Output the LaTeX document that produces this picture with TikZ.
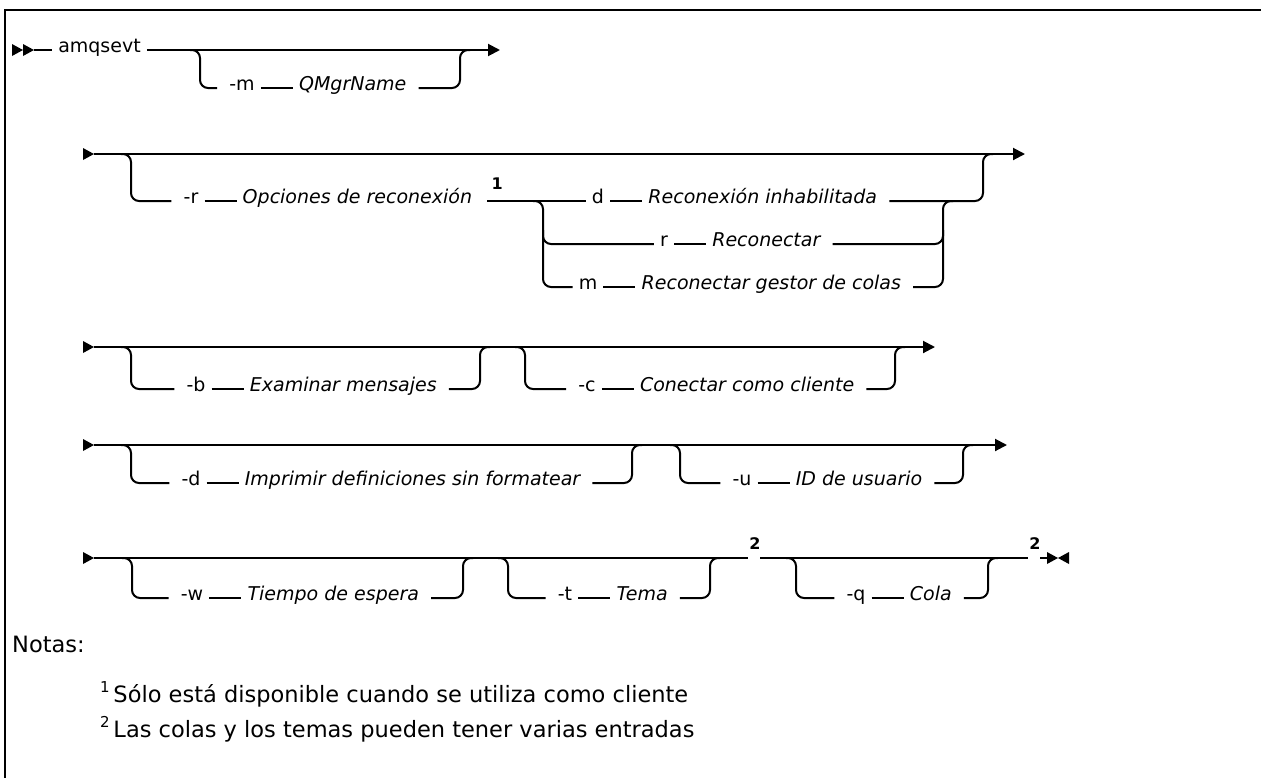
\documentclass[tikz,border=0pt]{standalone}
\usepackage{fontspec}
\setmainfont{DejaVu Sans}
\usetikzlibrary{arrows.meta,positioning}
\begin{document}
\begin{tikzpicture}[x=1pt,y=-1pt,
  node distance=32pt,
  rail/.style={line width=2pt, draw=black},
  brk/.style={rail, rounded corners=8pt},
  kw/.style={inner xsep=6pt, inner ysep=0pt, anchor=mid, font=\fontsize{19}{23}\selectfont},
  var/.style={kw, font=\fontsize{19}{23}\selectfont\itshape},
  fnum/.style={inner sep=0pt, font=\fontsize{16}{16}\selectfont\bfseries},
  endarrow/.style={rail, -{Triangle[length=12pt,width=12pt]}},
  note/.style={inner sep=0pt, anchor=mid west, font=\fontsize{22.5}{27}\selectfont}
]
\fill[white] (0,0) rectangle (1261,777);
\useasboundingbox (0,0) rectangle (1261,777);
\draw[line width=2.5pt] (5,778) -- (5,10) -- (1262,10);

% ---------- Row 1
\fill (12,44) -- (23,50) -- (12,56) -- cycle;
\fill (23,44) -- (34,50) -- (23,56) -- cycle;
\coordinate (s1) at (34,50);
\node[kw] (amq) at (99.5,50) {amqsevt};
\coordinate (e1) at (500,50);
\draw[rail] (s1) -- (amq.mid west);
\draw[endarrow] (amq.mid east) -- (e1);
\node[kw] (m1) at (242,88) {-m};
\node[var, right=of m1.mid east, anchor=mid west] (q1) {QMgrName};
\coordinate (l1) at (200,50); \coordinate (l1b) at (200,88);
\draw[brk] ([xshift=-10pt]l1) -- (l1) -- (l1b) -- ([xshift=-6pt]m1.mid west);
\draw[rail] (m1.mid east) -- (q1.mid west);
\coordinate (r1b) at (460,88); \coordinate (r1) at (460,50);
\draw[brk] ([xshift=6pt]q1.mid east) -- (r1b) -- (r1) -- ([xshift=10pt]r1);

% ---------- Row 2
\fill (83,148) -- (94,154) -- (83,160) -- cycle;
\coordinate (s2) at (94,154);
\coordinate (e2) at (1025,154);
\draw[endarrow] (s2) -- (e2);
\node[kw] (r2) at (191,201) {-r};
\node[var, right=of r2.mid east, anchor=mid west] (o2) {Opciones de reconexión};
\coordinate (o2e) at ([xshift=9pt]o2.mid east);
\node[fnum] (f1) at ([xshift=10pt,yshift=17pt]o2e) {1};
\coordinate (l2) at (131,154); \coordinate (l2b) at (131,201);
\draw[brk] ([xshift=-10pt]l2) -- (l2) -- (l2b) -- ([xshift=-6pt]r2.mid west);
\draw[rail] (r2.mid east) -- (o2.mid west);
\node[kw] (d2) at (598,201) {d};
\node[var, right=of d2.mid east, anchor=mid west] (dv2) {Reconexión inhabilitada};
\node[kw] (rr2) at (664,244) {r};
\node[var, right=of rr2.mid east, anchor=mid west] (rv2) {Reconectar};
\node[kw] (mm2) at (588,287) {m};
\node[var, right=of mm2.mid east, anchor=mid west] (mv2) {Reconectar gestor de colas};
\draw[rail] (o2e) -- (d2.mid west);
\draw[rail] (d2.mid east) -- (dv2.mid west);
\draw[rail] (rr2.mid east) -- (rv2.mid west);
\draw[rail] (mm2.mid east) -- (mv2.mid west);
\coordinate (sp) at (543,201); \coordinate (spr) at (543,244); \coordinate (spm) at (543,287);
\draw[brk] ([xshift=-10pt]sp) -- (sp) -- (spm) -- (mm2.mid west);
\draw[brk] ([yshift=14pt]spr) -- (spr) -- (rr2.mid west);
\coordinate (jd) at (943,201); \coordinate (jr) at (943,244); \coordinate (jm) at (943,287);
\draw[brk] ([xshift=6pt]mv2.mid east) -- (jm) -- (jd) -- ([xshift=10pt]jd);
\draw[brk] ([xshift=6pt]rv2.mid east) -- (jr) -- ([yshift=14pt]jr);
\coordinate (r2b) at (983,201); \coordinate (r2) at (983,154);
\draw[brk] ([xshift=6pt]dv2.mid east) -- (r2b) -- (r2) -- ([xshift=10pt]r2);

% ---------- Row 3
\fill (83,341) -- (94,347) -- (83,353) -- cycle;
\coordinate (s3) at (94,347);
\coordinate (e3) at (935,347);
\draw[endarrow] (s3) -- (e3);
\node[kw] (b3) at (196,389) {-b};
\node[var, right=of b3.mid east, anchor=mid west] (bv3) {Examinar mensajes};
\node[kw] (c3) at (587,389) {-c};
\node[var, right=of c3.mid east, anchor=mid west] (cv3) {Conectar como cliente};
\draw[rail] (b3.mid east) -- (bv3.mid west);
\draw[rail] (c3.mid east) -- (cv3.mid west);
\coordinate (l3) at (131,347); \coordinate (l3b) at (131,389);
\draw[brk] ([xshift=-10pt]l3) -- (l3) -- (l3b) -- ([xshift=-6pt]b3.mid west);
\coordinate (r3b) at (480,389); \coordinate (r3) at (480,347);
\draw[brk] ([xshift=6pt]bv3.mid east) -- (r3b) -- (r3) -- ([xshift=10pt]r3);
\coordinate (l3c) at (525,347); \coordinate (l3cb) at (525,389);
\draw[brk] ([xshift=-10pt]l3c) -- (l3c) -- (l3cb) -- ([xshift=-6pt]c3.mid west);
\coordinate (r3cb) at (895,389); \coordinate (r3c) at (895,347);
\draw[brk] ([xshift=6pt]cv3.mid east) -- (r3cb) -- (r3c) -- ([xshift=10pt]r3c);

% ---------- Row 4
\fill (83,439) -- (94,445) -- (83,451) -- cycle;
\coordinate (s4) at (94,445);
\coordinate (e4) at (1007,445);
\draw[endarrow] (s4) -- (e4);
\node[kw] (d4) at (191,483) {-d};
\node[var, right=of d4.mid east, anchor=mid west] (dv4) {Imprimir definiciones sin formatear};
\node[kw] (u4) at (742,483) {-u};
\node[var, right=of u4.mid east, anchor=mid west] (uv4) {ID de usuario};
\draw[rail] (d4.mid east) -- (dv4.mid west);
\draw[rail] (u4.mid east) -- (uv4.mid west);
\coordinate (l4) at (131,445); \coordinate (l4b) at (131,483);
\draw[brk] ([xshift=-10pt]l4) -- (l4) -- (l4b) -- ([xshift=-6pt]d4.mid west);
\coordinate (r4b) at (632,483); \coordinate (r4) at (632,445);
\draw[brk] ([xshift=6pt]dv4.mid east) -- (r4b) -- (r4) -- ([xshift=10pt]r4);
\coordinate (l4u) at (680,445); \coordinate (l4ub) at (680,483);
\draw[brk] ([xshift=-10pt]l4u) -- (l4u) -- (l4ub) -- ([xshift=-6pt]u4.mid west);
\coordinate (r4ub) at (963,483); \coordinate (r4u) at (963,445);
\draw[brk] ([xshift=6pt]uv4.mid east) -- (r4ub) -- (r4u) -- ([xshift=10pt]r4u);

% ---------- Row 5
\fill (83,552) -- (94,558) -- (83,564) -- cycle;
\coordinate (s5) at (94,558);
\node[fnum] (f2a) at (755,544) {2};
\node[fnum] (f2b) at (1035,544) {2};
\coordinate (g5a) at (748,558); \coordinate (g5b) at (760,558);
\coordinate (g5c) at (1028,558); \coordinate (g5d) at (1040,558);
\coordinate (x5) at (1047,558);
\draw[rail] (s5) -- (g5a);
\draw[rail] (g5b) -- (g5c);
\draw[rail] (g5d) -- (x5);
\fill (1047,552) -- (1058,558) -- (1047,564) -- cycle;
\fill (1069,552) -- (1058,558) -- (1069,564) -- cycle;
\node[kw] (w5) at (192,598) {-w};
\node[var, right=of w5.mid east, anchor=mid west] (wv5) {Tiempo de espera};
\node[kw] (t5) at (565,598) {-t};
\node[var, right=of t5.mid east, anchor=mid west] (tv5) {Tema};
\node[kw] (q5) at (856,598) {-q};
\node[var, right=of q5.mid east, anchor=mid west] (qv5) {Cola};
\draw[rail] (w5.mid east) -- (wv5.mid west);
\draw[rail] (t5.mid east) -- (tv5.mid west);
\draw[rail] (q5.mid east) -- (qv5.mid west);
\coordinate (l5) at (132,558); \coordinate (l5b) at (132,598);
\draw[brk] ([xshift=-10pt]l5) -- (l5) -- (l5b) -- ([xshift=-6pt]w5.mid west);
\coordinate (r5b) at (463,598); \coordinate (r5) at (463,558);
\draw[brk] ([xshift=6pt]wv5.mid east) -- (r5b) -- (r5) -- ([xshift=10pt]r5);
\coordinate (l5t) at (508,558); \coordinate (l5tb) at (508,598);
\draw[brk] ([xshift=-10pt]l5t) -- (l5t) -- (l5tb) -- ([xshift=-6pt]t5.mid west);
\coordinate (r5tb) at (710,598); \coordinate (r5t) at (710,558);
\draw[brk] ([xshift=6pt]tv5.mid east) -- (r5tb) -- (r5t) -- ([xshift=10pt]r5t);
\coordinate (l5q) at (796,558); \coordinate (l5qb) at (796,598);
\draw[brk] ([xshift=-10pt]l5q) -- (l5q) -- (l5qb) -- ([xshift=-6pt]q5.mid west);
\coordinate (r5qb) at (988,598); \coordinate (r5q) at (988,558);
\draw[brk] ([xshift=6pt]qv5.mid east) -- (r5qb) -- (r5q) -- ([xshift=10pt]r5q);

% ---------- Notes
\node[note] (notas) at (12,650) {Notas:};
\node[note] (n1) at (100,700) {\raisebox{0.45em}{\fontsize{15}{15}\selectfont 1}\,Sólo está disponible cuando se utiliza como cliente};
\node[note] (n2) at (100,735) {\raisebox{0.45em}{\fontsize{15}{15}\selectfont 2}\,Las colas y los temas pueden tener varias entradas};
\end{tikzpicture}
\end{document}
